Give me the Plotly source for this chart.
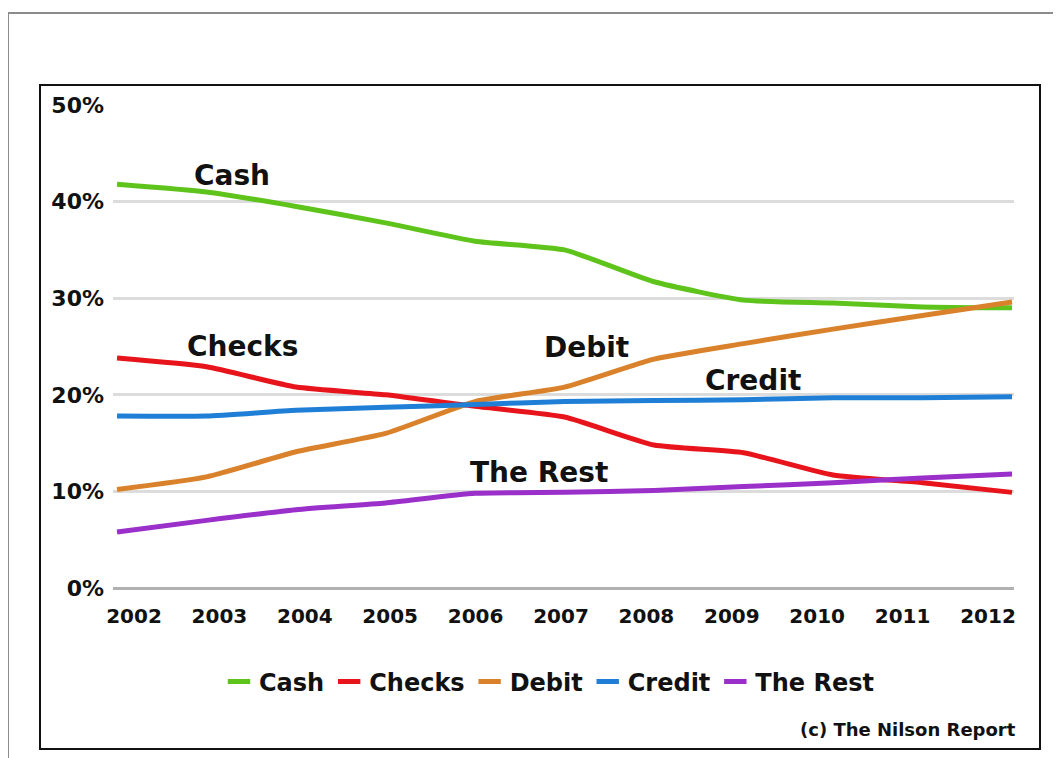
import plotly.graph_objects as go

years = [2002, 2003, 2004, 2005, 2006, 2007, 2008, 2009, 2010, 2011, 2012]
cash = [41.8, 41.0, 39.5, 37.8, 35.9, 35.0, 31.7, 29.8, 29.5, 29.1, 29.0]
checks = [23.8, 22.9, 20.8, 20.0, 18.8, 17.7, 14.8, 14.0, 11.7, 10.9, 9.9]
debit = [10.2, 11.5, 14.1, 16.0, 19.3, 20.8, 23.7, 25.3, 26.8, 28.2, 29.6]
credit = [17.8, 17.8, 18.4, 18.7, 19.0, 19.3, 19.4, 19.5, 19.7, 19.7, 19.8]
the_rest = [5.8, 7.0, 8.1, 8.8, 9.8, 9.9, 10.1, 10.5, 10.9, 11.4, 11.8]
y_ticks = [0, 10, 20, 30, 40, 50]
y_tick_labels = ["0%", "10%", "20%", "30%", "40%", "50%"]
x_tick_labels = [str(y) for y in years]

W, H = 1061, 758
OFF = 8  # page body margin
FONT = "DejaVu Sans"

series = [
    ("Cash", cash, "#5ec41c"),
    ("Checks", checks, "#e8141b"),
    ("Debit", debit, "#d9822b"),
    ("Credit", credit, "#1f7fd6"),
    ("The Rest", the_rest, "#9a2fc9"),
]

fig = go.Figure()
# legend entries with short line symbols (on the category-label axis x)
for name, vals, col in series:
    fig.add_trace(go.Scatter(
        x=[None], y=[None], name=name, mode="markers", showlegend=True,
        xaxis="x", yaxis="y",
        marker=dict(symbol="line-ew-open", size=16, color=col,
                    line=dict(color=col, width=5)),
    ))
# data lines on x2 (drawn above all gridlines)
for name, vals, col in series:
    fig.add_trace(go.Scatter(
        x=years, y=vals, name=name, mode="lines", showlegend=False,
        xaxis="x2", yaxis="y",
        line=dict(color=col, width=5, shape="spline", smoothing=0.5),
    ))

def px_x(p):
    return (p - OFF) / W

def px_y(p):
    return 1 - (p - OFF) / H

fig.update_layout(
    width=W, height=H,
    margin=dict(l=0, r=0, t=0, b=0, autoexpand=False),
    paper_bgcolor="white", plot_bgcolor="rgba(0,0,0,0)",
    font=dict(family=FONT, color="#111111"),
    xaxis=dict(
        domain=[px_x(134), px_x(988)],
        range=[2002, 2012], anchor="y",
        tickmode="array", tickvals=years, ticktext=x_tick_labels,
        showgrid=False, zeroline=False, showline=False, automargin=False,
        tickfont=dict(family=FONT, size=20, color="#111111", weight="bold"),
        ticklabelstandoff=14,
    ),
    xaxis2=dict(
        domain=[px_x(113), px_x(1014)],
        range=[2001.955, 2012.022], anchor="y",
        showticklabels=False, ticks="",
        showgrid=False, zeroline=False, showline=False, automargin=False,
    ),
    yaxis=dict(
        domain=[px_y(588), px_y(105)],
        range=[0, 50], anchor="x2",
        tickmode="array", tickvals=y_ticks, ticktext=y_tick_labels,
        showgrid=True, gridcolor="#dcdcdc", gridwidth=3,
        zeroline=True, zerolinecolor="#b0b0b0", zerolinewidth=3,
        showline=False, automargin=False,
        tickfont=dict(family=FONT, size=22, color="#111111", weight="bold"),
        ticklabelstandoff=8,
    ),
    showlegend=True,
    legend=dict(
        orientation="h", x=px_x(549), xanchor="center",
        y=px_y(682), yanchor="middle",
        font=dict(family=FONT, size=24, color="#111111", weight="bold"),
        itemwidth=30, bgcolor="rgba(0,0,0,0)",
    ),
)

# frames
fig.add_shape(type="rect", xref="paper", yref="paper",
              x0=px_x(8), x1=px_x(1075), y0=px_y(775), y1=px_y(13),
              line=dict(color="#8c8c8c", width=2), layer="below")
fig.add_shape(type="rect", xref="paper", yref="paper",
              x0=px_x(40), x1=px_x(1040), y0=px_y(749), y1=px_y(85),
              line=dict(color="#111111", width=2), layer="below")

labels = [
    ("Cash", 2003.28, 42.75),
    ("Checks", 2003.40, 24.95),
    ("Debit", 2007.24, 24.85),
    ("Credit", 2009.11, 21.43),
    ("The Rest", 2006.72, 12.0),
]
for txt, x, y in labels:
    fig.add_annotation(x=x, y=y, xref="x2", yref="y", text=txt, showarrow=False,
                       xanchor="center", yanchor="middle",
                       font=dict(family=FONT, size=28, color="#111111", weight="bold"))

fig.add_annotation(x=px_x(1018), y=px_y(729), xref="paper", yref="paper",
                   text="(c) The Nilson Report", showarrow=False,
                   xanchor="right", yanchor="middle",
                   font=dict(family=FONT, size=18, color="#111111", weight="bold"))

fig.write_html("out.html")
